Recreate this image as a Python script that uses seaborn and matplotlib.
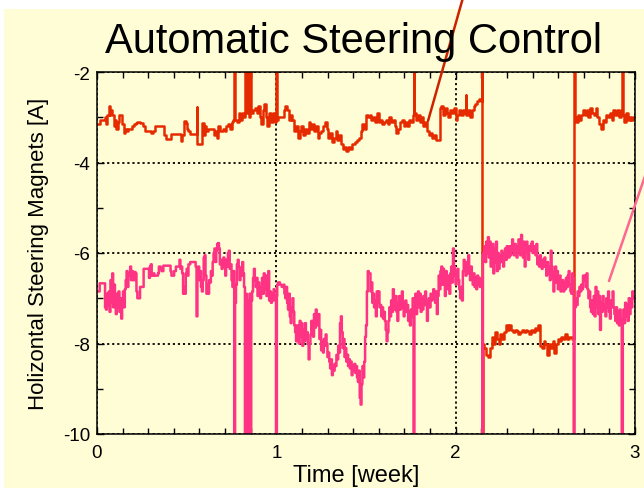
import matplotlib
matplotlib.use("Agg")
import matplotlib.pyplot as plt
from matplotlib.patches import Rectangle
from matplotlib.ticker import MultipleLocator
import numpy as np
import pandas as pd
import seaborn as sns

# ---------------- data (time in weeks, current in A) ----------------
title = "Automatic Steering Control"
x_label = "Time [week]"
y_label = "Holizontal Steering Magnets [A]"
x_ticks = [0, 1, 2, 3]
y_ticks = [-2, -4, -6, -8, -10]

red_readings = [
    (0.00, -3.16), (0.015, -3.05), (0.03, -3.05), (0.045, -3.0), (0.05, -3.15), (0.055, -2.95),
    (0.065, -2.75), (0.07, -2.95), (0.075, -2.85), (0.085, -2.95), (0.095, -3.2), (0.10, -3.05),
    (0.105, -3.25), (0.115, -3.1), (0.12, -2.95), (0.13, -2.95), (0.14, -3.15), (0.15, -3.35),
    (0.155, -3.25), (0.165, -3.3), (0.175, -3.25), (0.185, -3.25), (0.195, -3.2), (0.205, -3.15),
    (0.215, -3.12), (0.225, -3.1), (0.24, -3.12), (0.255, -3.2), (0.265, -3.3), (0.285, -3.3),
    (0.30, -3.35), (0.31, -3.3), (0.325, -3.2), (0.37, -3.2), (0.375, -3.4), (0.385, -3.49),
    (0.41, -3.49), (0.415, -3.38), (0.44, -3.38), (0.455, -3.38), (0.47, -3.52), (0.475, -3.4),
    (0.485, -3.08), (0.495, -3.12), (0.50, -3.25), (0.51, -3.3), (0.52, -3.38), (0.55, -3.38),
    (0.555, -2.77), (0.56, -3.6), (0.58, -3.6), (0.585, -3.12), (0.595, -3.4), (0.60, -3.2),
    (0.61, -3.3), (0.62, -3.25), (0.645, -3.25), (0.65, -3.4), (0.66, -3.3), (0.67, -3.45),
    (0.675, -3.2), (0.685, -3.3), (0.70, -3.25), (0.715, -3.3), (0.72, -3.2), (0.73, -3.15),
    (0.74, -3.25), (0.75, -3.1), (0.76, -3.05), (0.765, 0.5), (0.77, -3.05), (0.78, -3.1),
    (0.79, -2.9), (0.80, -3.05), (0.81, -2.9), (0.82, -3.0), (0.825, 0.5), (0.83, -2.9),
    (0.835, 0.5), (0.84, -2.85), (0.845, 0.5), (0.85, -3.0), (0.855, 0.5), (0.86, -2.9),
    (0.87, -2.85), (0.88, -2.8), (0.89, -2.9), (0.90, -2.75), (0.91, -3.0), (0.915, -3.15),
    (0.925, -2.85), (0.93, -2.7), (0.94, -3.0), (0.95, -3.2), (0.96, -2.9), (0.97, -3.1),
    (0.98, -2.9), (0.99, -3.1), (0.998, 0.5), (1.003, -3.05),
    (1.01, -3.0), (1.03, -3.0), (1.04, -2.85), (1.05, -2.75), (1.06, -2.85), (1.07, -3.05),
    (1.08, -2.95), (1.09, -3.05), (1.10, -3.3), (1.11, -3.2), (1.12, -3.45), (1.13, -3.3),
    (1.14, -3.2), (1.15, -3.4), (1.16, -3.25), (1.17, -3.35), (1.18, -3.1), (1.19, -3.25),
    (1.20, -3.15), (1.21, -3.3), (1.22, -3.2), (1.23, -3.45), (1.24, -3.35), (1.25, -3.3),
    (1.26, -3.2), (1.27, -3.1), (1.28, -3.25), (1.29, -3.45), (1.30, -3.35), (1.31, -3.55),
    (1.32, -3.45), (1.33, -3.3), (1.34, -3.5), (1.35, -3.4), (1.36, -3.6), (1.37, -3.7),
    (1.38, -3.65), (1.39, -3.75), (1.40, -3.65), (1.41, -3.7), (1.42, -3.6), (1.43, -3.6),
    (1.44, -3.55), (1.45, -3.5), (1.46, -3.45), (1.47, -3.3), (1.48, -3.15), (1.49, -3.25),
    (1.50, -2.95), (1.51, -3.0), (1.52, -2.95), (1.53, -3.05), (1.54, -3.0), (1.55, -3.1),
    (1.56, -2.9), (1.57, -3.1), (1.58, -3.05), (1.59, -3.15), (1.60, -3.1), (1.61, -3.05),
    (1.62, -3.15), (1.63, -3.0), (1.64, -3.1), (1.65, -3.05), (1.66, -3.2), (1.67, -3.35),
    (1.68, -3.25), (1.69, -3.1), (1.70, -3.05), (1.71, -3.2), (1.72, -3.1), (1.73, -3.2),
    (1.74, -3.05), (1.75, -3.1), (1.76, -2.95), (1.765, 0.5), (1.77, -2.9), (1.78, -3.05),
    (1.79, -2.95), (1.80, -3.1), (1.81, -3.0), (1.82, -3.2), (1.83, -3.1), (1.84, -3.3),
    (1.85, -3.4), (1.86, -3.35), (1.87, -3.45), (1.88, -3.4), (1.89, -3.5), (1.90, -3.5),
    (1.91, -2.8), (1.92, -2.75), (1.93, -2.95), (1.94, -2.8), (1.95, -2.9), (1.96, -3.0),
    (1.97, -2.85), (1.98, -2.9), (1.99, -2.8), (2.00, -3.05), (2.01, -2.95),
    (2.02, -2.85), (2.03, -2.95), (2.04, -2.85), (2.05, -2.9), (2.055, -2.5), (2.06, -2.95),
    (2.07, -2.85), (2.08, -3.0), (2.09, -2.85), (2.10, -2.75), (2.11, -2.7), (2.12, -2.65),
    (2.13, -2.6), (2.14, -2.65), (2.147, 0.5), (2.149, -11.0), (2.152, -8.0),
    (2.16, -8.1), (2.17, -8.25), (2.18, -8.3), (2.19, -8.1), (2.20, -7.85), (2.21, -8.0),
    (2.22, -7.75), (2.23, -7.9), (2.24, -8.0), (2.25, -7.8), (2.26, -7.9), (2.27, -7.75),
    (2.28, -7.6), (2.29, -7.7), (2.30, -7.6), (2.31, -7.7), (2.32, -7.75), (2.33, -7.7),
    (2.34, -7.72), (2.35, -7.8), (2.36, -7.75), (2.37, -7.7), (2.38, -7.75), (2.39, -7.7),
    (2.40, -7.72), (2.41, -7.8), (2.42, -7.7), (2.43, -7.75), (2.44, -7.65), (2.45, -7.7),
    (2.46, -7.6), (2.47, -8.05), (2.48, -8.1), (2.49, -7.95), (2.50, -8.0), (2.51, -8.25),
    (2.52, -8.0), (2.53, -8.1), (2.54, -7.95), (2.55, -8.2), (2.56, -8.0), (2.57, -7.9),
    (2.58, -7.95), (2.59, -7.85), (2.60, -7.9), (2.61, -7.8), (2.62, -7.9), (2.63, -7.85),
    (2.64, -7.85), (2.65, -7.9), (2.658, 0.5), (2.663, -3.0), (2.67, -3.1), (2.68, -2.95),
    (2.69, -3.05), (2.70, -2.95), (2.71, -2.85), (2.72, -2.95), (2.73, -2.85), (2.74, -3.0),
    (2.75, -2.8), (2.76, -2.9), (2.77, -2.95), (2.78, -2.8), (2.79, -3.0), (2.80, -3.15),
    (2.81, -3.25), (2.82, -3.05), (2.83, -3.1), (2.84, -2.95), (2.85, -3.0), (2.86, -2.9),
    (2.87, -3.05), (2.88, -2.85), (2.89, -2.95), (2.90, -2.85), (2.91, -3.0), (2.92, -2.85),
    (2.926, 0.5), (2.932, -2.95), (2.94, -3.1), (2.95, -2.9), (2.96, -3.05), (2.97, -3.0),
    (2.98, -3.05), (2.99, -3.0), (3.0, -3.0),
]

pink_readings = [
    (0.00, -6.85), (0.015, -6.67), (0.04, -6.67), (0.045, -7.2), (0.05, -7.25), (0.055, -6.9),
    (0.06, -7.15), (0.065, -6.85), (0.07, -7.3), (0.075, -6.6), (0.08, -7.1), (0.085, -6.45),
    (0.09, -7.2), (0.095, -6.7), (0.10, -7.0), (0.105, -7.35), (0.11, -6.9), (0.115, -7.2),
    (0.12, -6.85), (0.125, -7.3), (0.13, -7.0), (0.135, -7.45), (0.14, -7.05), (0.145, -6.85),
    (0.15, -7.2), (0.155, -6.8), (0.16, -6.6), (0.165, -6.4), (0.17, -6.75), (0.175, -6.45),
    (0.18, -6.5), (0.185, -6.3), (0.19, -6.6), (0.195, -6.4), (0.20, -6.6), (0.21, -6.42),
    (0.215, -6.45), (0.22, -6.85), (0.225, -7.0), (0.235, -7.0), (0.24, -6.75), (0.25, -6.75),
    (0.26, -6.35), (0.285, -6.35), (0.29, -6.55), (0.295, -6.3), (0.30, -6.25), (0.305, -6.5),
    (0.315, -6.45), (0.32, -6.5), (0.34, -6.45), (0.345, -6.3), (0.355, -6.35), (0.36, -6.4),
    (0.37, -6.28), (0.405, -6.28), (0.41, -6.4), (0.415, -6.5), (0.42, -6.5), (0.43, -6.4),
    (0.44, -6.3), (0.455, -6.3), (0.46, -6.15), (0.465, -6.35), (0.47, -6.3), (0.475, -6.45),
    (0.48, -6.9), (0.485, -6.75), (0.49, -6.9), (0.495, -6.45), (0.50, -6.35), (0.505, -6.5),
    (0.51, -6.25), (0.52, -6.2), (0.545, -6.2), (0.55, -6.3), (0.555, -7.4), (0.56, -6.35),
    (0.565, -6.3), (0.57, -6.6), (0.575, -6.4), (0.58, -6.75), (0.585, -6.85), (0.59, -6.6),
    (0.595, -6.1), (0.60, -6.05), (0.605, -6.5), (0.61, -6.9), (0.615, -6.7), (0.62, -6.9),
    (0.625, -6.6), (0.63, -6.65), (0.635, -6.4), (0.64, -6.5), (0.645, -6.2), (0.65, -6.0),
    (0.655, -5.9), (0.66, -6.2), (0.665, -5.95), (0.67, -5.8), (0.675, -5.78), (0.68, -5.9),
    (0.685, -6.25), (0.69, -6.15), (0.695, -6.35), (0.70, -6.2), (0.705, -6.1), (0.71, -6.3),
    (0.715, -6.5), (0.72, -6.15), (0.725, -6.3), (0.73, -6.0), (0.735, -5.95), (0.74, -6.35),
    (0.745, -6.25), (0.75, -6.6), (0.755, -6.75), (0.76, -6.4), (0.765, -11.0), (0.77, -7.1),
    (0.775, -6.7), (0.78, -6.25), (0.785, -6.15), (0.79, -6.3), (0.795, -6.6), (0.80, -6.35),
    (0.805, -6.5), (0.81, -6.2), (0.815, -6.45), (0.82, -6.75), (0.825, -11.0), (0.83, -6.9),
    (0.835, -11.0), (0.84, -7.05), (0.845, -11.0), (0.85, -6.9), (0.855, -11.0), (0.86, -7.05),
    (0.865, -6.85), (0.87, -6.55), (0.875, -6.35), (0.88, -6.6), (0.885, -6.75), (0.89, -6.55),
    (0.895, -6.95), (0.90, -6.65), (0.905, -6.85), (0.91, -7.0), (0.915, -6.75), (0.92, -6.55),
    (0.925, -6.9), (0.93, -6.45), (0.935, -6.8), (0.94, -6.5), (0.945, -6.95), (0.95, -6.7),
    (0.955, -6.4), (0.96, -7.05), (0.965, -6.85), (0.97, -7.1), (0.975, -6.9), (0.98, -7.05),
    (0.985, -6.8), (0.99, -6.95), (0.998, -11.0), (1.003, -6.95), (1.005, -6.7),
    (1.01, -6.65), (1.02, -6.7), (1.03, -6.75), (1.04, -6.7), (1.045, -6.9), (1.05, -7.0),
    (1.055, -6.75), (1.06, -7.1), (1.065, -7.25), (1.07, -6.9), (1.075, -7.4), (1.08, -7.55),
    (1.085, -7.2), (1.09, -7.0), (1.095, -7.3), (1.10, -7.6), (1.105, -7.75), (1.11, -7.95),
    (1.115, -7.6), (1.12, -7.9), (1.125, -8.0), (1.13, -7.5), (1.135, -7.85), (1.14, -7.55),
    (1.145, -8.05), (1.15, -7.7), (1.155, -7.95), (1.16, -7.55), (1.165, -7.9), (1.17, -7.75),
    (1.175, -8.0), (1.18, -8.35), (1.185, -8.0), (1.19, -7.8), (1.195, -7.5), (1.20, -7.7),
    (1.205, -7.85), (1.21, -7.35), (1.215, -7.65), (1.22, -7.25), (1.225, -7.45), (1.23, -7.6),
    (1.235, -7.35), (1.24, -7.9), (1.245, -7.7), (1.25, -8.15), (1.255, -7.95), (1.26, -8.2),
    (1.265, -7.9), (1.27, -8.05), (1.275, -7.8), (1.28, -8.0), (1.285, -8.3), (1.29, -8.2),
    (1.295, -8.4), (1.30, -8.55), (1.305, -8.35), (1.31, -8.7), (1.315, -8.5), (1.32, -8.6),
    (1.325, -8.45), (1.33, -8.5), (1.335, -8.25), (1.34, -8.35), (1.345, -8.05), (1.35, -8.2),
    (1.355, -7.55), (1.36, -7.4), (1.365, -7.75), (1.37, -8.1), (1.375, -7.9), (1.38, -8.3),
    (1.385, -8.1), (1.39, -8.4), (1.395, -8.25), (1.40, -8.5), (1.405, -8.35), (1.41, -8.55),
    (1.415, -8.4), (1.42, -8.7), (1.425, -8.5), (1.43, -8.6), (1.435, -8.45), (1.44, -8.65),
    (1.445, -8.5), (1.45, -8.75), (1.455, -8.85), (1.46, -8.6), (1.465, -9.2), (1.47, -9.35),
    (1.475, -8.9), (1.48, -8.5), (1.485, -8.75), (1.49, -8.4), (1.495, -7.85), (1.50, -7.6),
    (1.505, -6.85), (1.51, -6.4), (1.515, -6.45), (1.52, -6.45), (1.525, -6.85), (1.53, -6.65),
    (1.535, -7.1), (1.54, -6.9), (1.545, -7.2), (1.55, -7.05), (1.555, -7.4), (1.56, -6.85),
    (1.565, -7.1), (1.57, -6.85), (1.575, -7.2), (1.58, -7.15), (1.585, -7.4), (1.59, -7.2),
    (1.595, -7.45), (1.60, -7.3), (1.605, -7.5), (1.61, -7.7), (1.615, -7.95), (1.62, -7.75),
    (1.625, -7.5), (1.63, -7.2), (1.635, -7.4), (1.64, -7.05), (1.645, -7.3), (1.65, -6.8),
    (1.655, -7.1), (1.66, -7.25), (1.665, -6.95), (1.67, -7.3), (1.675, -7.5), (1.68, -7.1),
    (1.685, -6.95), (1.69, -7.25), (1.695, -7.05), (1.70, -6.85), (1.705, -7.2), (1.71, -7.4),
    (1.715, -7.1), (1.72, -7.05), (1.725, -7.3), (1.73, -7.15), (1.735, -7.5), (1.74, -7.3),
    (1.745, -7.6), (1.75, -7.25), (1.755, -7.4), (1.76, -7.0), (1.765, -11.0), (1.77, -7.15),
    (1.775, -6.9), (1.78, -7.35), (1.785, -7.0), (1.79, -6.85), (1.795, -7.2), (1.80, -6.9),
    (1.805, -7.3), (1.81, -7.0), (1.815, -7.25), (1.82, -6.95), (1.825, -7.15), (1.83, -6.85),
    (1.835, -7.05), (1.84, -7.5), (1.845, -7.2), (1.85, -7.0), (1.855, -7.2), (1.86, -6.9),
    (1.865, -7.05), (1.87, -7.0), (1.875, -6.8), (1.88, -6.9), (1.885, -7.1), (1.89, -6.85),
    (1.895, -7.35), (1.90, -6.95), (1.905, -6.5), (1.91, -6.8), (1.915, -6.4), (1.92, -6.3),
    (1.925, -6.7), (1.93, -6.35), (1.935, -6.55), (1.94, -6.95), (1.945, -6.4), (1.95, -6.6),
    (1.955, -6.8), (1.96, -6.5), (1.965, -6.9), (1.97, -6.45), (1.975, -6.3), (1.98, -6.65),
    (1.985, -5.9), (1.99, -6.3), (1.995, -6.5), (2.00, -6.7), (2.005, -6.4), (2.01, -6.35),
    (2.015, -6.6), (2.02, -6.8), (2.025, -7.0), (2.03, -6.75), (2.035, -7.05), (2.04, -6.4),
    (2.045, -6.15), (2.05, -6.3), (2.055, -6.5), (2.06, -6.2), (2.065, -6.45), (2.07, -6.05),
    (2.075, -6.4), (2.08, -6.6), (2.085, -6.3), (2.09, -6.55), (2.095, -6.7), (2.10, -6.45),
    (2.105, -6.75), (2.11, -6.55), (2.115, -6.8), (2.12, -6.5), (2.125, -6.7), (2.13, -6.55),
    (2.135, -6.75), (2.14, -6.6), (2.145, -6.6), (2.149, -11.0), (2.152, -6.0), (2.16, -5.85),
    (2.165, -6.2), (2.17, -5.75), (2.175, -6.0), (2.18, -5.65), (2.185, -6.1), (2.19, -5.75),
    (2.195, -6.3), (2.20, -6.0), (2.205, -5.8), (2.21, -6.45), (2.215, -5.9), (2.22, -6.2),
    (2.225, -5.75), (2.23, -6.4), (2.235, -6.0), (2.24, -6.35), (2.245, -6.05), (2.25, -6.2),
    (2.255, -5.95), (2.26, -6.1), (2.265, -6.3), (2.27, -6.05), (2.275, -5.9), (2.28, -6.15),
    (2.285, -5.85), (2.29, -6.0), (2.295, -6.1), (2.30, -5.85), (2.305, -6.05), (2.31, -5.95),
    (2.315, -5.7), (2.32, -5.95), (2.325, -6.05), (2.33, -5.8), (2.335, -5.95), (2.34, -6.1),
    (2.345, -5.85), (2.35, -5.7), (2.355, -5.95), (2.36, -6.05), (2.365, -5.6), (2.37, -5.85),
    (2.375, -6.1), (2.38, -5.75), (2.385, -6.3), (2.39, -5.9), (2.395, -5.75), (2.40, -6.0),
    (2.405, -6.15), (2.41, -5.85), (2.415, -5.95), (2.42, -5.8), (2.425, -5.75), (2.43, -6.0),
    (2.435, -5.85), (2.44, -5.95), (2.445, -6.05), (2.45, -5.8), (2.455, -6.25), (2.46, -6.1),
    (2.465, -6.3), (2.47, -6.05), (2.475, -6.2), (2.48, -6.35), (2.485, -6.15), (2.49, -6.3),
    (2.495, -6.1), (2.50, -6.3), (2.505, -6.5), (2.51, -6.2), (2.515, -6.45), (2.52, -6.3),
    (2.525, -6.6), (2.53, -5.95), (2.535, -6.3), (2.54, -6.55), (2.545, -6.85), (2.55, -6.4),
    (2.555, -6.3), (2.56, -6.65), (2.565, -6.4), (2.57, -6.8), (2.575, -6.6), (2.58, -6.5),
    (2.585, -6.85), (2.59, -6.75), (2.595, -6.6), (2.60, -6.85), (2.605, -6.65), (2.61, -6.8),
    (2.615, -6.55), (2.62, -6.75), (2.625, -6.5), (2.63, -6.4), (2.635, -6.7), (2.64, -6.85),
    (2.645, -6.9), (2.65, -6.45), (2.655, -6.55), (2.658, -11.0), (2.663, -7.2), (2.67, -7.0),
    (2.675, -7.15), (2.68, -6.85), (2.685, -6.95), (2.69, -6.75), (2.695, -6.85), (2.70, -6.7),
    (2.705, -6.8), (2.71, -6.5), (2.715, -6.6), (2.72, -6.5), (2.725, -6.75), (2.73, -6.45),
    (2.735, -6.8), (2.74, -7.0), (2.745, -6.85), (2.75, -7.2), (2.755, -7.3), (2.76, -7.05),
    (2.765, -7.35), (2.77, -6.95), (2.775, -7.4), (2.78, -6.75), (2.785, -7.2), (2.79, -6.85),
    (2.795, -7.35), (2.80, -6.95), (2.805, -7.7), (2.81, -7.1), (2.815, -7.3), (2.82, -6.95),
    (2.825, -7.25), (2.83, -7.15), (2.835, -7.4), (2.84, -7.0), (2.845, -7.2), (2.85, -6.85),
    (2.855, -7.3), (2.86, -7.45), (2.865, -7.05), (2.87, -7.2), (2.875, -6.85), (2.88, -7.2),
    (2.885, -7.35), (2.89, -7.5), (2.895, -7.2), (2.90, -7.55), (2.905, -7.3), (2.91, -7.6),
    (2.915, -7.25), (2.92, -7.45), (2.926, -11.0), (2.932, -7.5), (2.935, -7.25), (2.94, -7.55),
    (2.945, -7.1), (2.95, -7.4), (2.955, -7.15), (2.96, -7.5), (2.965, -7.0), (2.97, -7.35),
    (2.975, -7.05), (2.98, -7.2), (2.985, -6.85), (2.99, -7.0), (3.0, -7.0),
]

series_names = ["red", "pink"]
series_colors = ["#E62A00", "#FF3383"]

# ---------------- build table ----------------
frames = []
for name, readings in zip(series_names, [red_readings, pink_readings]):
    t, v = zip(*readings)
    frames.append(pd.DataFrame({"time": t, "current": v, "series": name}))
df = pd.concat(frames, ignore_index=True)

# ---------------- style ----------------
sns.set_style("ticks")
plt.rcParams["font.family"] = ["Liberation Sans", "DejaVu Sans"]
plt.rcParams["text.color"] = "black"
plt.rcParams["axes.labelcolor"] = "black"
plt.rcParams["xtick.color"] = "black"
plt.rcParams["ytick.color"] = "black"
YELLOW = "#FFFDD6"

fig = plt.figure(figsize=(6.44, 4.89), dpi=100)
fig.patch.set_facecolor("white")
fig.patches.append(Rectangle((4 / 644, 0), 1, 1 - 10 / 489, transform=fig.transFigure,
                             facecolor=YELLOW, edgecolor="none", zorder=-10))

ax = fig.add_axes([97 / 644, 1 - 435 / 489, 538 / 644, 362 / 489])
ax.set_facecolor(YELLOW)

sns.lineplot(data=df, x="time", y="current", hue="series", hue_order=series_names,
             palette=dict(zip(series_names, series_colors)), estimator=None, sort=False,
             drawstyle="steps-post", linewidth=1.8, legend=False, ax=ax)

ax.set_xlim(0, 3)
ax.set_ylim(-10, -2)
ax.set_xticks(x_ticks)
ax.set_xticklabels([str(t) for t in x_ticks])
ax.set_yticks(y_ticks)
ax.set_yticklabels([str(t) for t in y_ticks])
ax.xaxis.set_minor_locator(MultipleLocator(1 / 7))
ax.yaxis.set_minor_locator(MultipleLocator(1))
ax.tick_params(which="both", direction="in", top=True, right=True, colors="black",
               labelcolor="black", labelsize=13.5, width=1)
ax.tick_params(which="major", length=5)
ax.tick_params(which="minor", length=4)
ax.tick_params(axis="x", pad=7)
ax.tick_params(axis="y", pad=5)

ax.grid(True, which="major", color="black", linestyle=(0, (1.2, 1.6)), linewidth=1.3)
for s in ax.spines.values():
    s.set_color("black")
    s.set_linewidth(1.1)

ax.set_xlabel(x_label, fontsize=17, color="black")
ax.set_ylabel(y_label, fontsize=16, labelpad=10, color="black")
ax.xaxis.label.set_verticalalignment("baseline")
ax.xaxis.set_label_coords((356 - 97) / 538, -(482 - 435) / 362)

fig.text(0.549, 1 - 53 / 489, title, ha="center", va="baseline", fontsize=30, color="black")

# pointer lines toward labels outside the frame
ax.annotate("", xy=(1.846, -3.08), xytext=(2.045, -0.3),
            arrowprops=dict(arrowstyle="-", color="#CC2200", lw=1.8, shrinkA=0, shrinkB=0),
            annotation_clip=False)
ax.annotate("", xy=(2.855, -6.62), xytext=(3.06, -4.25),
            arrowprops=dict(arrowstyle="-", color="#FF6690", lw=1.8, shrinkA=0, shrinkB=0),
            annotation_clip=False)

fig.savefig("out.png", dpi=100, facecolor=fig.get_facecolor())
